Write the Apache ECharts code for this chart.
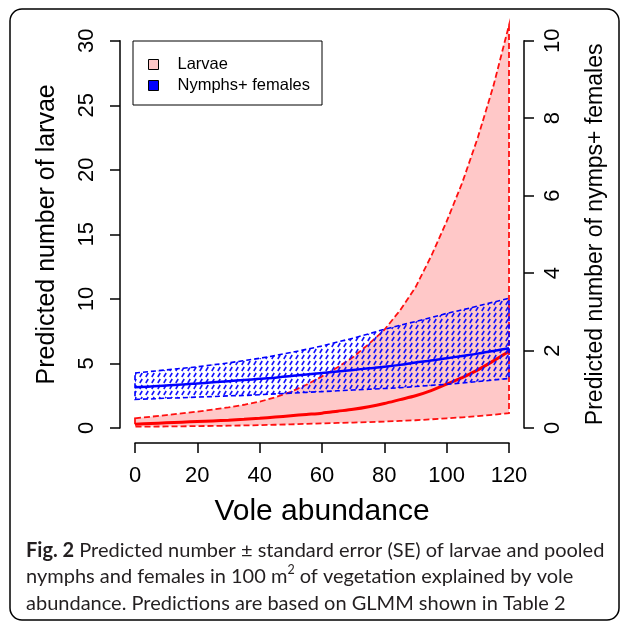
<!DOCTYPE html>
<html>
<head>
<meta charset="utf-8">
<script src="https://cdn.jsdelivr.net/npm/echarts@6/dist/echarts.min.js"></script>
<style>
html,body{margin:0;padding:0;background:#fff;}
#c{width:627px;height:624px;}
</style>
</head>
<body>
<div id="c"></div>
<script>
// ---- data ----
const voleAbundance = [0, 5, 10, 15, 20, 25, 30, 35, 40, 45, 50, 55, 60, 65, 70, 75, 80, 85, 90, 95, 100, 105, 110, 115, 120];
const larvaeMean  = [0.30, 0.35, 0.40, 0.45, 0.50, 0.55, 0.60, 0.67, 0.75, 0.85, 0.95, 1.05, 1.15, 1.30, 1.45, 1.65, 1.90, 2.20, 2.50, 2.90, 3.40, 3.90, 4.50, 5.20, 5.95];
const larvaeUpper = [0.75, 0.87, 1.00, 1.13, 1.27, 1.43, 1.60, 1.80, 2.04, 2.38, 2.80, 3.35, 4.00, 4.70, 5.50, 6.50, 7.60, 9.10, 10.9, 13.3, 16.0, 19.0, 22.5, 26.5, 31.2];
const larvaeLower = [0.10, 0.11, 0.12, 0.13, 0.15, 0.16, 0.18, 0.20, 0.22, 0.25, 0.28, 0.32, 0.36, 0.39, 0.42, 0.46, 0.50, 0.55, 0.60, 0.67, 0.75, 0.83, 0.92, 1.03, 1.15];
const nymphMean   = [1.05, 1.07, 1.10, 1.12, 1.15, 1.18, 1.21, 1.24, 1.27, 1.30, 1.34, 1.38, 1.42, 1.46, 1.50, 1.54, 1.58, 1.63, 1.69, 1.74, 1.80, 1.86, 1.92, 1.99, 2.06];
const nymphUpper  = [1.42, 1.46, 1.50, 1.54, 1.58, 1.63, 1.68, 1.74, 1.80, 1.87, 1.95, 2.03, 2.12, 2.22, 2.32, 2.43, 2.55, 2.65, 2.75, 2.85, 2.96, 3.05, 3.15, 3.25, 3.35];
const nymphLower  = [0.74, 0.75, 0.77, 0.78, 0.80, 0.81, 0.83, 0.84, 0.86, 0.88, 0.90, 0.92, 0.94, 0.96, 0.98, 1.00, 1.02, 1.04, 1.07, 1.10, 1.13, 1.16, 1.20, 1.24, 1.28];
const xTicks = [0, 20, 40, 60, 80, 100, 120];
const larvaeTicks = [0, 5, 10, 15, 20, 25, 30];
const nymphTicks = [0, 2, 4, 6, 8, 10];

const seriesNames = ['Larvae', 'Nymphs+ females'];
const xTitle = 'Vole abundance';
const yLeftTitle = 'Predicted number of larvae';
const yRightTitle = 'Predicted number of nymps+ females';

// ---- hatch pattern ----
const hatch = document.createElement('canvas');
hatch.width = 6; hatch.height = 6;
(function(){
  const g = hatch.getContext('2d');
  g.strokeStyle = '#1010ff';
  g.lineWidth = 1.6;
  g.beginPath();
  g.moveTo(1.8, 5.0);
  g.lineTo(4.2, 1.0);
  g.stroke();
})();

function bandRows(lo, hi) {
  return voleAbundance.map((x, i) => [x, lo[i], hi[i]]);
}
function bandRenderer(lo, hi, style) {
  return function (params, api) {
    if (params.dataIndex !== 0) return null;
    const pts = [];
    for (let i = 0; i < voleAbundance.length; i++) pts.push(api.coord([voleAbundance[i], hi[i]]));
    for (let i = voleAbundance.length - 1; i >= 0; i--) pts.push(api.coord([voleAbundance[i], lo[i]]));
    return { type: 'polygon', shape: { points: pts }, style: style };
  };
}

const FF = 'Liberation Sans, Arial, sans-serif';
const axisLineStyle = { color: '#000', width: 1.5 };
const chart = echarts.init(document.getElementById('c'));
chart.setOption({
  animation: false,
  backgroundColor: '#fff',
  grid: { left: 135, right: 118, top: 40.7, bottom: 196 },
  legend: {
    orient: 'vertical', left: 133, top: 41,
    padding: [15, 12, 11, 15], itemGap: 4, itemWidth: 10, itemHeight: 10,
    borderColor: '#000', borderWidth: 1, backgroundColor: '#fff',
    textStyle: { fontSize: 16.5, fontFamily: FF, color: '#000', rich: { t: { fontSize: 16.5, fontFamily: FF, color: '#000', padding: [0, 0, 0, 14] } } },
    formatter: n => '{t|' + n + '}',
    data: [
      { name: seriesNames[0], icon: 'rect', itemStyle: { color: '#ffc8c8', borderColor: '#000', borderWidth: 1 } },
      { name: seriesNames[1], icon: 'rect', itemStyle: { color: '#0000ff', borderColor: '#000', borderWidth: 1 } }
    ]
  },
  xAxis: {
    type: 'value', min: 0, max: 120, interval: 20, offset: 15,
    axisLine: { onZero: false, lineStyle: axisLineStyle },
    axisTick: { length: 10, lineStyle: axisLineStyle },
    axisLabel: { fontSize: 22, color: '#000', fontFamily: FF, margin: 22,
      formatter: v => xTicks.indexOf(v) >= 0 ? String(v) : '' },
    splitLine: { show: false },
    name: xTitle, nameLocation: 'middle', nameGap: 54,
    nameTextStyle: { fontSize: 30, color: '#000', fontFamily: FF }
  },
  yAxis: [
    {
      type: 'value', position: 'left', min: 0, max: 30, interval: 5, offset: 15,
      axisLine: { show: true, onZero: false, lineStyle: axisLineStyle },
      axisTick: { show: true, length: 10, lineStyle: axisLineStyle },
      axisLabel: { rotate: 90, align: 'center', verticalAlign: 'bottom', margin: 22, fontSize: 22, color: '#000', fontFamily: FF,
        formatter: v => larvaeTicks.indexOf(v) >= 0 ? String(v) : '' },
      splitLine: { show: false },
      name: yLeftTitle, nameLocation: 'middle', nameGap: 60, nameRotate: 90,
      nameTextStyle: { fontSize: 25, color: '#000', fontFamily: FF }
    },
    {
      type: 'value', position: 'right', min: 0, max: 10, interval: 2, offset: 15,
      axisLine: { show: true, onZero: false, lineStyle: axisLineStyle },
      axisTick: { show: true, length: 10, lineStyle: axisLineStyle },
      axisLabel: { rotate: 90, align: 'center', verticalAlign: 'top', margin: 18, fontSize: 22, color: '#000', fontFamily: FF,
        formatter: v => nymphTicks.indexOf(v) >= 0 ? String(v) : '' },
      splitLine: { show: false },
      name: yRightTitle, nameLocation: 'middle', nameGap: 60, nameRotate: 90,
      nameTextStyle: { fontSize: 23, color: '#000', fontFamily: FF }
    }
  ],
  series: [
    {
      name: seriesNames[0], type: 'custom', xAxisIndex: 0, yAxisIndex: 0, clip: false, z: 1,
      itemStyle: { color: '#ffc8c8' },
      data: bandRows(larvaeLower, larvaeUpper), encode: { x: 0, y: [1, 2] },
      renderItem: bandRenderer(larvaeLower, larvaeUpper, { fill: '#ffc8c8', stroke: '#ff1010', lineWidth: 1.8, lineDash: [6, 3] })
    },
    {
      name: 'Larvae fit', type: 'line', xAxisIndex: 0, yAxisIndex: 0, clip: false, z: 2,
      showSymbol: false, smooth: 0.3, color: '#ff0000',
      lineStyle: { color: '#ff0000', width: 3 },
      data: voleAbundance.map((x, i) => [x, larvaeMean[i]])
    },
    {
      name: 'Nymphs band', type: 'custom', xAxisIndex: 0, yAxisIndex: 1, clip: false, z: 3,
      data: bandRows(nymphLower, nymphUpper), encode: { x: 0, y: [1, 2] },
      renderItem: bandRenderer(nymphLower, nymphUpper, { fill: { image: hatch, repeat: 'repeat' }, stroke: '#0000ff', lineWidth: 1.6, lineDash: [5, 3] })
    },
    {
      name: seriesNames[1], type: 'line', xAxisIndex: 0, yAxisIndex: 1, clip: false, z: 4,
      showSymbol: false, smooth: 0.3, color: '#0000ff',
      lineStyle: { color: '#0000ff', width: 2.5 },
      data: voleAbundance.map((x, i) => [x, nymphMean[i]])
    }
  ],
  graphic: [
    { type: 'rect', z: 0, silent: true, shape: { x: 10, y: 9, width: 609, height: 611, r: 12 },
      style: { fill: 'none', stroke: '#000', lineWidth: 1.5 } },
    { type: 'text', left: 26, top: 537, silent: true,
      style: {
        text: '{b|Fig. 2} Predicted number ± standard error (SE) of larvae and pooled\nnymphs and females in 100 m{sup|2} of vegetation explained by vole\nabundance. Predictions are based on GLMM shown in Table 2',
        fontFamily: 'Lato, sans-serif', fontSize: 20, lineHeight: 26.5, fill: '#231f20',
        rich: {
          b: { fontFamily: 'Lato, sans-serif', fontWeight: 'bold', fontSize: 20, lineHeight: 26.5, fill: '#231f20' },
          sup: { fontFamily: 'Lato, sans-serif', fontSize: 12.5, lineHeight: 26.5, padding: [0, 0, 13, 0], fill: '#231f20' }
        }
      }
    }
  ]
});
</script>
</body>
</html>
